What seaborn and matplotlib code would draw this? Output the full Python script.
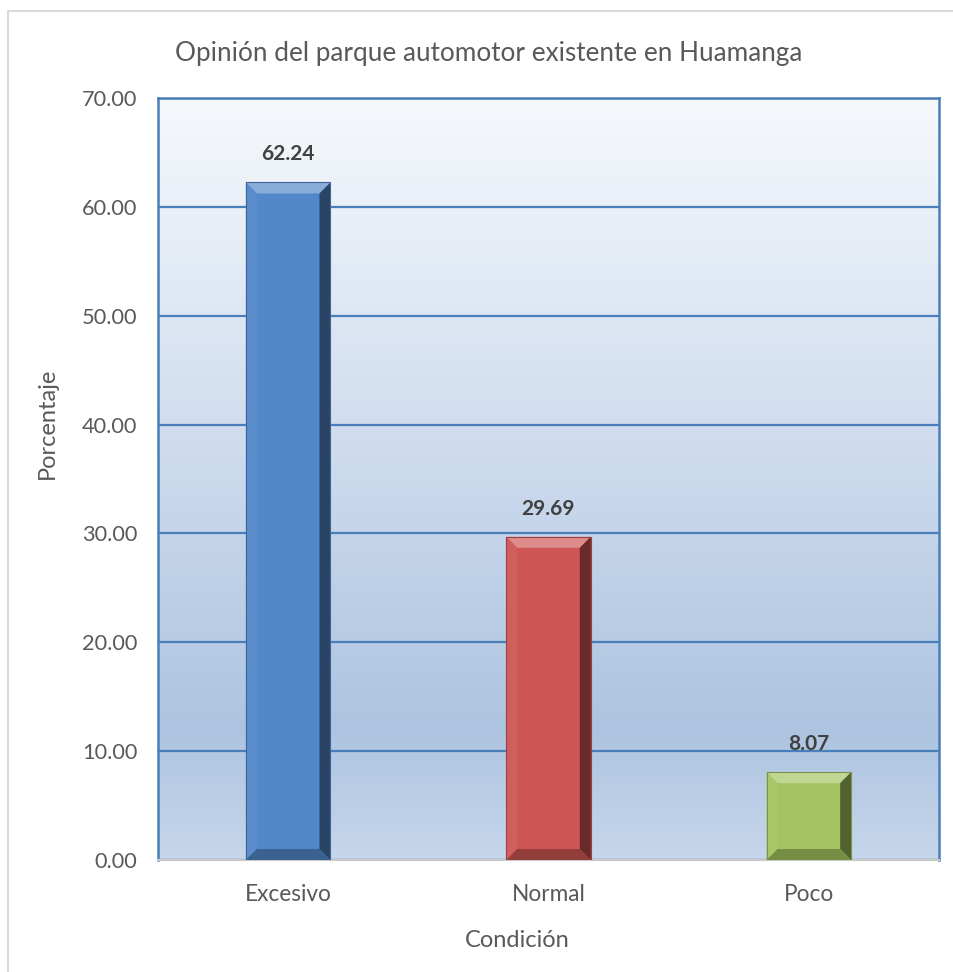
import numpy as np
import pandas as pd
import matplotlib
matplotlib.use("Agg")
import matplotlib.pyplot as plt
from matplotlib.patches import Polygon, Rectangle
from matplotlib.colors import LinearSegmentedColormap, to_rgb
import seaborn as sns

# Data
categories = ["Excesivo", "Normal", "Poco"]
percentages = [62.24, 29.69, 8.07]
bar_colors = ["#5287c9", "#cd5654", "#a3c460"]
y_ticks = [0, 10, 20, 30, 40, 50, 60, 70]

title = "Opinión del parque automotor existente en Huamanga"
x_label = "Condición"
y_label = "Porcentaje"

sns.set_theme(style="white")
plt.rcParams["font.family"] = ["Lato", "DejaVu Sans"]

df = pd.DataFrame({"cat": categories, "pct": percentages})

W, H, DPI = 954, 972, 100
fig = plt.figure(figsize=(W / DPI, H / DPI), dpi=DPI)
fig.patch.set_facecolor("white")

left, right, top, bottom = 158, 939, 98, 860
ax = fig.add_axes([left / W, 1 - bottom / H, (right - left) / W, (bottom - top) / H])

# Vertical gradient fill for the plot area
grad = LinearSegmentedColormap.from_list(
    "area",
    [(0.0, "#c6d6eb"), (0.17, "#adc4e0"), (0.55, "#cfdcee"), (1.0, "#f6f9fc")],
)
ax.imshow(np.linspace(0, 1, 256).reshape(-1, 1), cmap=grad, origin="lower",
          extent=[-0.5, 2.5, 0, 70], aspect="auto", zorder=0,
          interpolation="bicubic")

sns.barplot(data=df, x="cat", y="pct", hue="cat", palette=bar_colors,
            width=0.325, legend=False, ax=ax, zorder=3, saturation=1,
            edgecolor="none")

ax.set_xlim(-0.5, 2.5)
ax.set_ylim(0, 70)
ax.set_yticks(y_ticks)
ax.set_yticklabels([f"{v:.2f}" for v in y_ticks])
ax.yaxis.grid(True, color="#4a7ebb", linewidth=1.6, zorder=1)
ax.set_axisbelow(True)

for side in ["left", "top", "right"]:
    ax.spines[side].set_color("#4a7ebb")
    ax.spines[side].set_linewidth(1.8)
ax.spines["bottom"].set_color("#c8c8c8")
ax.spines["bottom"].set_linewidth(1.5)

ax.tick_params(axis="y", length=0, labelsize=15.7, labelcolor="#595959", pad=15)
ax.tick_params(axis="x", length=0, labelsize=16.3, labelcolor="#595959", pad=17)
ax.set_xlabel("")
ax.set_ylabel("")

fig.text(489 / W, 1 - 53 / H, title, fontsize=18.8, color="#595959",
         ha="center", va="center")
fig.text(517 / W, 1 - 940 / H, x_label, fontsize=17, color="#595959",
         ha="center", va="center")
fig.text(47 / W, 1 - 423 / H, y_label, fontsize=17, color="#595959",
         ha="center", va="center", rotation=90)


def shade(color, factor):
    r, g, b = to_rgb(color)
    if factor >= 0:
        return (r + (1 - r) * factor, g + (1 - g) * factor, b + (1 - b) * factor)
    f = 1 + factor
    return (r * f, g * f, b * f)


# Bevelled edges on each bar, sized in pixels
px_x = (right - left) / 3.0
px_y = (bottom - top) / 70.0
bev = 11
dx, dy = bev / px_x, bev / px_y
bars = [p for p in ax.patches if isinstance(p, Rectangle) and p.get_height() > 0]
for patch, col in zip(bars, bar_colors):
    x0 = patch.get_x()
    x1 = x0 + patch.get_width()
    h = patch.get_height()
    faces = [
        ([(x0, h), (x1, h), (x1 - dx, h - dy), (x0 + dx, h - dy)], shade(col, 0.32)),
        ([(x0, 0), (x0, h), (x0 + dx, h - dy), (x0 + dx, dy)], shade(col, 0.05)),
        ([(x1, 0), (x1, h), (x1 - dx, h - dy), (x1 - dx, dy)], shade(col, -0.50)),
        ([(x0, 0), (x1, 0), (x1 - dx, dy), (x0 + dx, dy)], shade(col, -0.28)),
    ]
    for pts, fc in faces:
        ax.add_patch(Polygon(pts, closed=True, facecolor=fc, edgecolor="none",
                             zorder=4))
    ax.add_patch(Rectangle((x0, 0), x1 - x0, h, fill=False,
                           edgecolor=shade(col, -0.25), linewidth=0.8, zorder=5))
    ax.annotate(f"{h:.2f}", (x0 + (x1 - x0) / 2, h), xytext=(0, 13),
                textcoords="offset points", ha="center", va="bottom",
                fontsize=15, fontweight="bold", color="#404040", zorder=6)

# Light outer frame of the chart area
fig.add_artist(Rectangle((8 / W, -0.05), 1.2, 1 - 11 / H + 0.05,
                         transform=fig.transFigure, fill=False,
                         edgecolor="#d9d9d9", linewidth=1.5))

fig.savefig("out.png", dpi=DPI)
